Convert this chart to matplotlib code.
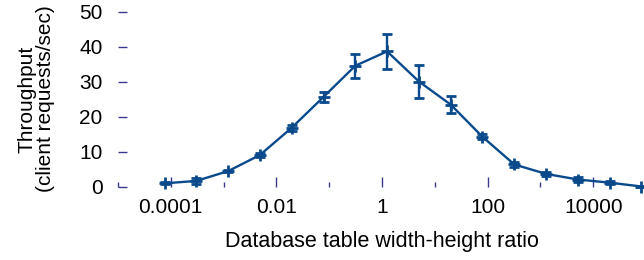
import numpy as np
import matplotlib
matplotlib.use("Agg")
import matplotlib.pyplot as plt
from matplotlib.ticker import FixedLocator, NullFormatter

plt.rcParams['font.family'] = ['Liberation Sans', 'DejaVu Sans']

# width-height ratio of the table (powers of 4)
ratio = [1.25 * 4.0 ** k for k in range(-7, 9)]
throughput = [0.9, 1.6, 4.4, 9.0, 16.8, 25.6, 34.5, 38.6,
              30.0, 23.4, 14.2, 6.3, 3.6, 2.0, 1.1, 0.0]
err = [0.3, 0.8, 0.3, 0.6, 0.8, 1.5, 3.4, 4.9,
       4.8, 2.5, 0.7, 0.6, 0.5, 0.7, 0.4, 0.2]

major_ticks = [1e-4, 1e-2, 1, 1e2, 1e4]
major_labels = ["0.0001", "0.01", "1", "100", "10000"]
minor_ticks = [1e-5, 1e-3, 1e-1, 1e1, 1e3, 1e5]

line_color = "#0a4a8c"
tick_color = "#3a3a8c"

fig = plt.figure(figsize=(6.44, 2.6), dpi=100)
ax = fig.add_axes([118 / 644, 73.5 / 260, 528 / 644, 175 / 260])

ax.errorbar(ratio, throughput, yerr=err, color=line_color, lw=1.7,
            marker='+', markersize=8, mew=2, capsize=3.4, capthick=1.7,
            elinewidth=1.7, clip_on=False, zorder=3)

ax.set_xscale('log')
ax.set_xlim(1e-5, 1e5)
ax.set_ylim(0, 50)

for s in ax.spines.values():
    s.set_visible(False)

ax.xaxis.set_major_locator(FixedLocator(major_ticks))
ax.set_xticklabels(major_labels)
ax.xaxis.set_minor_locator(FixedLocator(minor_ticks))
ax.xaxis.set_minor_formatter(NullFormatter())
ax.set_yticks([0, 10, 20, 30, 40, 50])

ax.tick_params(axis='x', which='major', direction='in', length=7.2, width=1,
               color=tick_color, labelsize=15, pad=8.5)
ax.tick_params(axis='x', which='minor', direction='in', length=3.6, width=1,
               color=tick_color)
ax.tick_params(axis='y', direction='in', length=6.5, width=1,
               color=tick_color, labelsize=15, pad=11)

ax.set_xlabel("Database table width-height ratio", fontsize=15.5)
ax.xaxis.set_label_coords(0.5, -0.254)
ax.set_ylabel("Throughput\n(client requests/sec)", fontsize=15,
              linespacing=1.0)
ax.yaxis.set_label_coords(-0.119, 0.5)

fig.savefig("out.png", dpi=100)
